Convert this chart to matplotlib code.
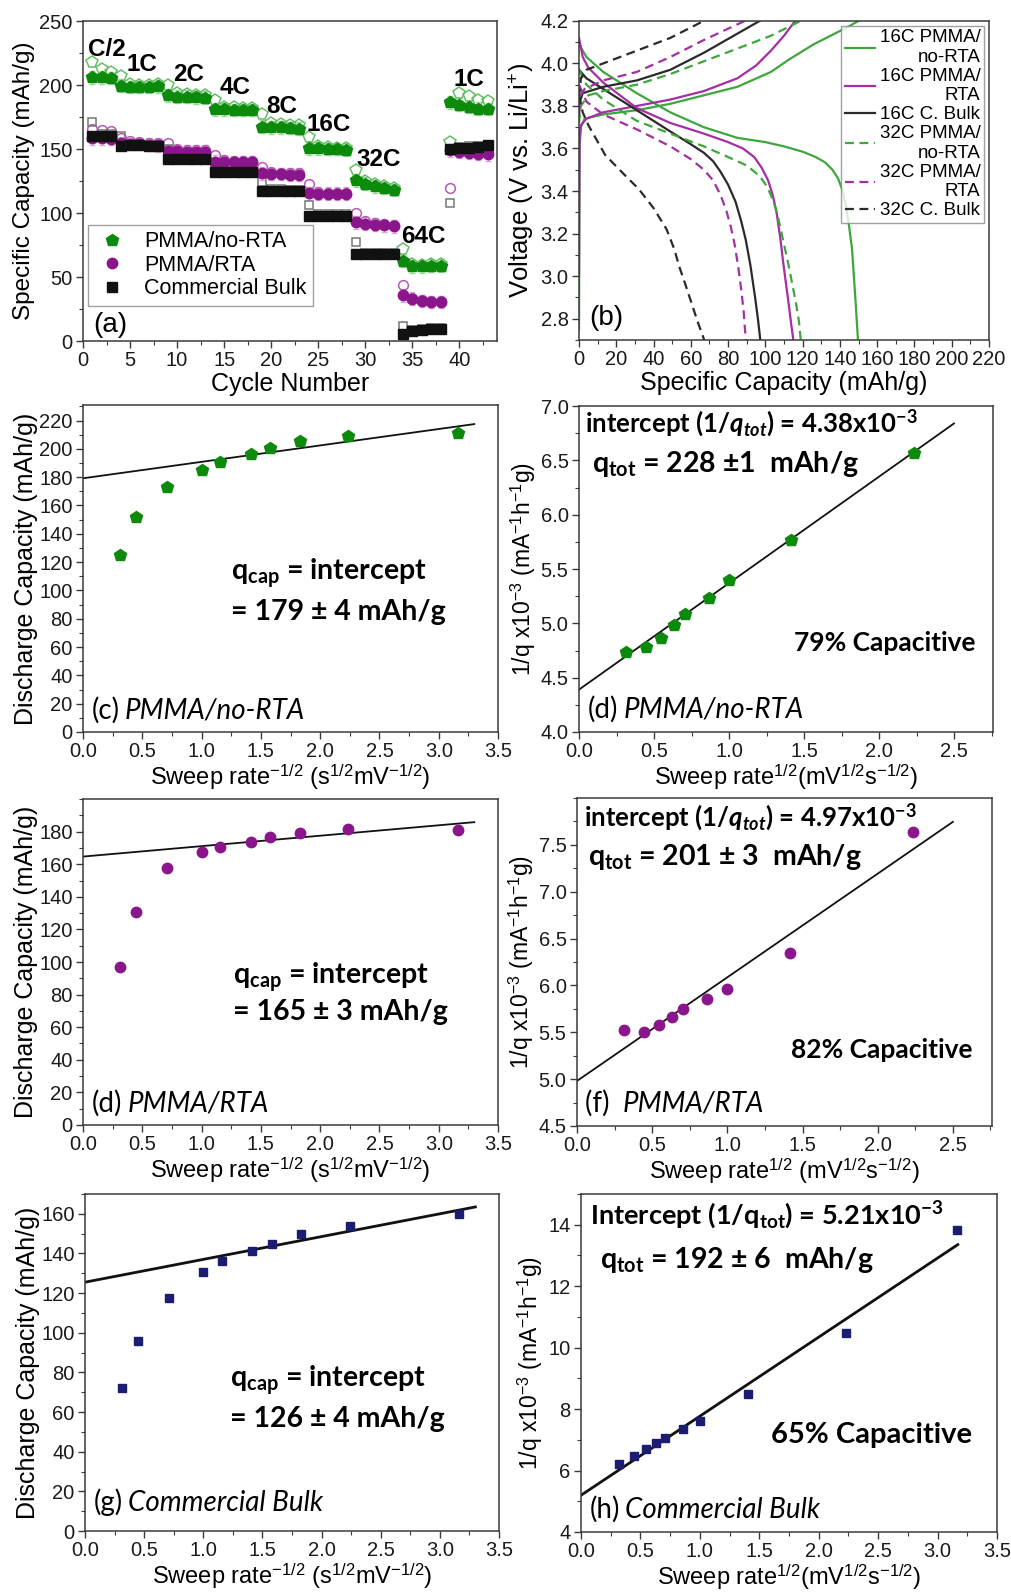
import matplotlib
matplotlib.use("Agg")
import matplotlib.pyplot as plt
from matplotlib.lines import Line2D
from matplotlib.ticker import AutoMinorLocator, MultipleLocator

plt.rcParams['font.family'] = ['Liberation Sans', 'DejaVu Sans']
plt.rcParams['mathtext.fontset'] = 'custom'
plt.rcParams['mathtext.rm'] = 'Liberation Sans'
plt.rcParams['mathtext.sf'] = 'Liberation Sans'
plt.rcParams['mathtext.it'] = 'Lato:italic'
plt.rcParams['mathtext.bf'] = 'Lato:bold'
plt.rcParams['mathtext.bfit'] = 'Lato:italic:bold'

# ---------------- (a) rate capability ----------------
cycles = list(range(1, 44))
rate_labels = ["C/2", "1C", "2C", "4C", "8C", "16C", "32C", "64C", "1C"]
rate_label_x = [2.5, 6.3, 11.2, 16.2, 21.1, 26.1, 31.4, 36.2, 41.0]
rate_label_y = [228, 216, 208, 198, 183, 169, 142, 82, 204]

norta_fill = [206, 206, 205.5,
              199.5, 198.5, 198.5, 198.5, 199,
              192, 191, 191, 190.5, 190,
              181, 181, 180.5, 180.5, 180.5,
              167.5, 167, 167, 166.5, 166,
              150.5, 150.5, 150, 150, 149.5,
              125.5, 123, 121, 119.5, 118,
              62.5, 58.5, 58.5, 59, 59,
              186.5, 184.7, 182.8, 181.5, 181.3]
norta_open = [218, 212.5, 210,
              207, 201, 200, 200, 200.5,
              200, 193.5, 193, 192.5, 192,
              188, 183, 182.5, 182, 182,
              177, 170, 169.5, 169, 168.5,
              159.5, 152, 151.5, 151, 151,
              134, 125, 122.5, 121, 119.5,
              72, 60, 59.5, 60, 60,
              155.5, 193.8, 191.2, 188.6, 187.5]
rta_fill = [158.5, 158.5, 158,
            154.5, 154, 154, 153.5, 153,
            148.5, 148.5, 148, 148, 148,
            140, 140, 139.5, 139.5, 139.5,
            131, 130.5, 130.5, 130, 130,
            115.5, 115, 115, 115, 115,
            92.7, 91.7, 90.9, 90.4, 89.6,
            35.7, 33.1, 31.3, 30.5, 30.5,
            149, 147.7, 146.9, 146.4, 145.9]
rta_open = [166, 164.5, 164,
            159, 156, 155.5, 155, 155,
            154.5, 150, 149.5, 149.5, 149.5,
            145.5, 141.5, 141, 141, 141,
            136, 132, 131.5, 131.5, 131,
            122.5, 116.5, 116, 116, 116,
            100, 93.5, 92, 91.5, 91,
            43.5, 34, 32, 31, 31,
            119.5, 150, 149, 148.5, 148]
bulk_fill = [160.5, 160.5, 160,
             152.5, 153, 153, 152.5, 152.5,
             142.5, 142.5, 142.5, 142.5, 142.5,
             132, 132, 132, 132, 132,
             117.5, 117.5, 117.5, 117, 117,
             98, 98, 98, 98, 98,
             67.7, 67.7, 67.7, 68, 68,
             5.7, 7.6, 8.9, 9.4, 9.4,
             150.3, 150.8, 151.1, 151.6, 152.9]
bulk_open = [171, 162, 161.5,
             160, 154, 154, 153.5, 153.5,
             150, 143.5, 143.5, 143.5, 143.5,
             138.5, 133, 133, 133, 133,
             124.5, 118.5, 118.5, 118, 118,
             106.5, 99, 99, 99, 99,
             77.5, 68.5, 68.5, 68.5, 68.5,
             11.5, 8.5, 9.5, 10, 10,
             108, 151.5, 152, 152.5, 153.5]
err_norta = 5
err_rta = 5

# ---------------- (b) voltage profiles (capacity, voltage) ----------------
g16_dis_q = [0, 4, 13, 31, 49, 67, 85, 100, 110, 120, 127, 132, 136, 139, 141.5,
             143.5, 145, 146.5, 147.5, 148.5, 149.7]
g16_dis_v = [4.09, 4.03, 3.96, 3.86, 3.77, 3.70, 3.65, 3.63, 3.61, 3.585, 3.56, 3.535,
             3.50, 3.46, 3.40, 3.32, 3.23, 3.13, 3.00, 2.87, 2.70]
g16_chg_q = [0, 0.3, 1, 3, 13, 31, 49, 67, 85, 103, 113, 126, 144, 150]
g16_chg_v = [2.75, 3.60, 3.70, 3.74, 3.76, 3.78, 3.81, 3.85, 3.89, 3.96, 4.02, 4.09, 4.17, 4.20]

p16_dis_q = [0, 2, 5, 13, 31, 49, 67, 80, 88, 94, 98, 101.5, 104, 106, 108, 109.5,
             111, 112.5, 113.8, 115]
p16_dis_v = [4.12, 4.03, 3.98, 3.91, 3.79, 3.72, 3.67, 3.63, 3.60, 3.56, 3.51, 3.45,
             3.38, 3.30, 3.18, 3.07, 2.97, 2.87, 2.78, 2.70]
p16_chg_q = [0, 0.3, 1, 4, 13, 31, 49, 67, 85, 95, 103, 110, 116]
p16_chg_v = [3.0, 3.65, 3.71, 3.74, 3.77, 3.80, 3.83, 3.87, 3.93, 3.99, 4.06, 4.13, 4.20]

b16_dis_q = [0, 4, 13, 31, 49, 60, 67, 72, 76, 80, 84, 87, 89.5, 92, 94.5, 96, 97.3]
b16_dis_v = [3.97, 3.93, 3.88, 3.78, 3.68, 3.62, 3.58, 3.54, 3.49, 3.43, 3.35, 3.26,
             3.17, 3.05, 2.90, 2.80, 2.70]
b16_chg_q = [0, 0.5, 2, 13, 31, 49, 67, 83, 97]
b16_chg_v = [3.75, 3.82, 3.86, 3.89, 3.92, 3.97, 4.05, 4.13, 4.20]

g32_dis_q = [0, 4, 13, 31, 49, 67, 80, 90, 97, 101, 104, 106.5, 108.5, 110.5, 112.5,
             114.5, 116.5, 118, 119]
g32_dis_v = [3.97, 3.90, 3.83, 3.73, 3.67, 3.61, 3.56, 3.52, 3.47, 3.42, 3.36, 3.29,
             3.21, 3.13, 3.05, 2.96, 2.87, 2.79, 2.70]
g32_chg_q = [0, 1, 5, 13, 31, 49, 67, 85, 103, 119]
g32_chg_v = [3.72, 3.80, 3.85, 3.87, 3.90, 3.95, 4.01, 4.07, 4.13, 4.20]

p32_dis_q = [0, 4, 13, 31, 49, 60, 67, 72, 76, 79, 81.5, 83.5, 85.5, 87, 88.3, 89.5]
p32_dis_v = [3.90, 3.82, 3.76, 3.69, 3.61, 3.55, 3.50, 3.45, 3.38, 3.31, 3.23, 3.15,
             3.04, 2.94, 2.84, 2.70]
p32_chg_q = [0, 1, 3, 13, 31, 49, 67, 89]
p32_chg_v = [3.78, 3.85, 3.88, 3.92, 3.96, 4.03, 4.11, 4.20]

b32_dis_q = [0, 2, 5, 14, 24, 32, 40, 47, 51, 54, 57.5, 60.5, 63.5, 67.2]
b32_dis_v = [3.85, 3.77, 3.71, 3.57, 3.48, 3.41, 3.32, 3.22, 3.13, 3.04, 2.95, 2.87,
             2.79, 2.70]
b32_chg_q = [0, 1, 4, 13, 31, 49, 67]
b32_chg_v = [3.84, 3.93, 3.97, 4.00, 4.06, 4.12, 4.20]

# ---------------- (c)-(h) Trasatti analysis ----------------
inv_sqrt_rate = [0.316, 0.447, 0.707, 1.0, 1.155, 1.414, 1.581, 1.826, 2.236, 3.162]
sqrt_rate = [0.316, 0.447, 0.548, 0.632, 0.707, 0.866, 1.0, 1.414, 2.236]

cap_norta = [124.7, 152, 172.9, 185, 190.8, 196.5, 200.7, 205.4, 209, 211]
cap_rta = [97.2, 130.9, 157.5, 167.5, 170.6, 173.9, 176.7, 179, 181.8, 181.2]
cap_bulk = [72.3, 95.6, 117.6, 130.4, 136, 141, 144.7, 149.9, 153.8, 159.7]
fit_cap_norta = (179.2, 11.6)   # intercept, slope
fit_cap_rta = (164.7, 6.4)
fit_cap_bulk = (125.5, 11.5)

invq_norta = [4.736, 4.785, 4.864, 4.987, 5.088, 5.235, 5.40, 5.768, 6.571]
invq_rta = [5.52, 5.502, 5.581, 5.66, 5.749, 5.859, 5.966, 6.341, 7.632]
invq_bulk = [6.228, 6.489, 6.685, 6.88, 7.065, 7.359, 7.62, 8.5, 10.47, 13.84]
sqrt_rate_bulk = [0.317, 0.443, 0.547, 0.628, 0.704, 0.858, 0.998, 1.402, 2.232, 3.16]
fit_invq_norta = (4.39, 0.98)
fit_invq_rta = (4.98, 1.106)
fit_invq_bulk = (5.196, 2.573)

GREEN = "#0c8a0c"
GREEN_OPEN = "#63bf63"
GREEN_ERR = "#9ad69a"
PURPLE = "#8b168b"
PURPLE_OPEN = "#b45ab4"
PURPLE_ERR = "#d9a6d9"
BLACK = "#111111"
NAVY = "#1c1c70"
LG = "#3da63d"
LP = "#a52ea5"
LK = "#2a2a2a"
SPINE = "#3a3a3a"

TICK_FS = 14.5
ANNOT = dict(family="Lato", fontweight="bold")

fig = plt.figure(figsize=(10.11, 15.93), dpi=100)


def style_axes(ax):
    for s in ax.spines.values():
        s.set_color(SPINE)
        s.set_linewidth(1.1)
    ax.tick_params(which="both", direction="out", top=False, right=False,
                   colors=SPINE, labelcolor="#1a1a1a", labelsize=TICK_FS)
    ax.tick_params(which="major", length=5, width=1, pad=2.5)
    ax.tick_params(which="minor", length=3, width=0.8)
    ax.xaxis.set_minor_locator(AutoMinorLocator(2))
    ax.yaxis.set_minor_locator(AutoMinorLocator(2))


def panel_tag(ax, x, y, tag, name):
    t = ax.text(x, y, tag, transform=ax.transAxes, family="Lato",
                fontsize=20, va="baseline", ha="left")
    ax.annotate(name, xy=(1, 0), xycoords=t, xytext=(4, 0),
                textcoords="offset points", family="Lato", style="italic",
                fontsize=20, va="bottom", ha="left")


# ---------------- panel (a) ----------------
ax = fig.add_axes([0.0821, 0.7859, 0.4095, 0.2009])
ax.errorbar(cycles, norta_fill, yerr=err_norta, fmt="none", ecolor=GREEN_ERR,
            elinewidth=0.8, capsize=2, zorder=1)
ax.errorbar(cycles, rta_fill, yerr=err_rta, fmt="none", ecolor=PURPLE_ERR,
            elinewidth=0.8, capsize=2, zorder=1)
ax.plot(cycles, norta_open, "p", ms=8.5, mfc="none", mec=GREEN_OPEN, mew=1.1, zorder=2)
ax.plot(cycles, rta_open, "o", ms=7, mfc="none", mec=PURPLE_OPEN, mew=1.1, zorder=2)
ax.plot(cycles, bulk_open, "s", ms=6, mfc="none", mec="#777777", mew=1.1, zorder=2)
ax.plot(cycles, norta_fill, "p", ms=9, color=GREEN, mec=GREEN, ls="none",
        zorder=3, label="PMMA/no-RTA")
ax.plot(cycles, rta_fill, "o", ms=7.5, color=PURPLE, mec=PURPLE, ls="none",
        zorder=3, label="PMMA/RTA")
ax.plot(cycles, bulk_fill, "s", ms=6.5, color=BLACK, mec=BLACK, ls="none",
        zorder=3, label="Commercial Bulk")
for lab, lx, ly in zip(rate_labels, rate_label_x, rate_label_y):
    ax.text(lx, ly, lab, ha="center", va="center", fontsize=17.5, fontweight="bold")
ax.set_xlim(0, 44)
ax.set_ylim(0, 250)
ax.xaxis.set_major_locator(MultipleLocator(5))
ax.yaxis.set_major_locator(MultipleLocator(50))
style_axes(ax)
ax.set_xlabel("Cycle Number", fontsize=18, labelpad=1)
ax.set_ylabel("Specific Capacity (mAh/g)", fontsize=17.5, labelpad=3)
leg = ax.legend(loc="lower left", bbox_to_anchor=(0.012, 0.11), fontsize=15.5,
                frameon=True, fancybox=False, edgecolor="#888888",
                handletextpad=0.7, borderpad=0.3, labelspacing=0.12,
                handlelength=1.6, borderaxespad=0)
leg.get_frame().set_linewidth(1.0)
ax.text(0.024, 0.05, "(a)", transform=ax.transAxes, fontsize=20, va="center")

# ---------------- panel (b) ----------------
ax = fig.add_axes([0.5727, 0.7866, 0.4055, 0.2003])
dash = (0, (4, 2.5))
curves = [
    (g16_chg_q, g16_chg_v, LG, "-"), (g16_dis_q, g16_dis_v, LG, "-"),
    (p16_chg_q, p16_chg_v, LP, "-"), (p16_dis_q, p16_dis_v, LP, "-"),
    (b16_chg_q, b16_chg_v, LK, "-"), (b16_dis_q, b16_dis_v, LK, "-"),
    (g32_chg_q, g32_chg_v, LG, dash), (g32_dis_q, g32_dis_v, LG, dash),
    (p32_chg_q, p32_chg_v, LP, dash), (p32_dis_q, p32_dis_v, LP, dash),
    (b32_chg_q, b32_chg_v, LK, dash), (b32_dis_q, b32_dis_v, LK, dash),
]
for q, v, c, ls in curves:
    ax.plot(q, v, color=c, ls=ls, lw=1.6)
ax.set_xlim(0, 220)
ax.set_ylim(2.7, 4.2)
ax.xaxis.set_major_locator(MultipleLocator(20))
ax.set_yticks([2.8, 3.0, 3.2, 3.4, 3.6, 3.8, 4.0, 4.2])
ax.set_yticklabels(["2.8", "3.0", "3.2", "3.4", "3.6", "3.8", "4.0", "4.2"])
style_axes(ax)
ax.set_xlabel("Specific Capacity (mAh/g)", fontsize=18, labelpad=1)
ax.set_ylabel(r"Voltage (V vs. Li/Li$^{\mathrm{+}}$)", fontsize=18.5, labelpad=3)
handles = [Line2D([], [], color=LG, lw=1.6), Line2D([], [], color=LP, lw=1.6),
           Line2D([], [], color=LK, lw=1.6), Line2D([], [], color=LG, lw=1.6, ls=dash),
           Line2D([], [], color=LP, lw=1.6, ls=dash), Line2D([], [], color=LK, lw=1.6, ls=dash)]
labels = ["16C PMMA/\nno-RTA", "16C PMMA/\nRTA", "16C C. Bulk",
          "32C PMMA/\nno-RTA", "32C PMMA/\nRTA", "32C C. Bulk"]
leg = ax.legend(handles, labels, loc="upper right", fontsize=13.5, frameon=True,
                fancybox=False, edgecolor="#888888", handlelength=1.6,
                handletextpad=0.25, labelspacing=0.1, borderpad=0.2,
                borderaxespad=0.25)
for t in leg.get_texts():
    t.set_multialignment("right")
ax.text(0.024, 0.07, "(b)", transform=ax.transAxes, fontsize=20, va="center")

# ---------------- capacity vs sweep rate^-1/2 panels ----------------
xlab_inv = r"Sweep rate$^{\mathrm{-1/2}}$ (s$^{\mathrm{1/2}}$mV$^{\mathrm{-1/2}}$)"
ylab_cap = "Discharge Capacity (mAh/g)"
ylab_inv = r"1/q x10$^{\mathrm{-3}}$ (mA$^{\mathrm{-1}}$h$^{\mathrm{-1}}$g)"


def cap_panel(rect, caps, fit, marker, color, ms, ymax, ytop, txt_xy, value_txt,
              tag, name, tag_y, fit_lw=1.3):
    ax = fig.add_axes(rect)
    xs = [0, 3.3]
    ax.plot(xs, [fit[0] + fit[1] * x for x in xs], color="#111111", lw=fit_lw, zorder=1)
    ax.plot(inv_sqrt_rate, caps, marker, color=color, mec=color, ms=ms, ls="none", zorder=2)
    ax.set_xlim(0, 3.5)
    ax.set_ylim(0, ytop)
    ax.set_yticks(list(range(0, ymax + 1, 20)))
    ax.xaxis.set_major_locator(MultipleLocator(0.5))
    ax.xaxis.set_major_formatter(plt.FormatStrFormatter("%.1f"))
    style_axes(ax)
    ax.set_xlabel(xlab_inv, fontsize=17, labelpad=1)
    ax.set_ylabel(ylab_cap, fontsize=18, labelpad=1)
    ax.text(txt_xy[0], txt_xy[1], r"q$_{\mathbf{cap}}$ = intercept", fontsize=20.5,
            va="center", **ANNOT)
    ax.text(txt_xy[0], txt_xy[2], value_txt, fontsize=20.5, va="center", **ANNOT)
    panel_tag(ax, 0.02, tag_y, tag, name)
    return ax


cap_panel([0.0821, 0.5405, 0.4105, 0.2053], cap_norta, fit_cap_norta, "p", GREEN, 9,
          220, 231, (1.25, 112, 85), "= 179 ± 4 mAh/g", "(c)", "PMMA/no-RTA", 0.04)
cap_panel([0.0821, 0.2938, 0.4105, 0.2046], cap_rta, fit_cap_rta, "o", PURPLE, 7.5,
          180, 200, (1.265, 91, 69.5), "= 165 ± 3 mAh/g", "(d)", "PMMA/RTA", 0.04)
cap_panel([0.0841, 0.0389, 0.4095, 0.2116], cap_bulk, fit_cap_bulk, "s", NAVY, 6,
          160, 170, (1.226, 76, 56.6), "= 126 ± 4 mAh/g", "(g)", "Commercial Bulk",
          0.06, fit_lw=2.0)


# ---------------- 1/q vs sweep rate^1/2 panels ----------------
def inv_panel(rect, xs_pts, vals, fit, marker, color, ms, ylim, yticks, xmax, xend,
              xlab, line1, line1_xy, line2, line2_xy, pct, pct_xy, tag, name, tag_y,
              fit_lw=1.3, line1_fs=18.5, pct_fs=19):
    ax = fig.add_axes(rect)
    xs = [0, xend]
    ax.plot(xs, [fit[0] + fit[1] * x for x in xs], color="#111111", lw=fit_lw, zorder=1)
    ax.plot(xs_pts, vals, marker, color=color, mec=color, ms=ms, ls="none", zorder=2)
    ax.set_xlim(0, xmax)
    ax.set_ylim(*ylim)
    ax.set_yticks(yticks)
    ax.xaxis.set_major_locator(MultipleLocator(0.5))
    ax.xaxis.set_major_formatter(plt.FormatStrFormatter("%.1f"))
    style_axes(ax)
    ax.set_xlabel(xlab, fontsize=17, labelpad=1)
    ax.set_ylabel(ylab_inv, fontsize=16.5, labelpad=2)
    ax.text(line1_xy[0], line1_xy[1], line1, fontsize=line1_fs, va="center", **ANNOT)
    ax.text(line2_xy[0], line2_xy[1], line2, fontsize=20.5, va="center", **ANNOT)
    ax.text(pct_xy[0], pct_xy[1], pct, fontsize=pct_fs, va="center", **ANNOT)
    panel_tag(ax, 0.02, tag_y, tag, name)
    return ax


xlab_sq = r"Sweep rate$^{\mathrm{1/2}}$(mV$^{\mathrm{1/2}}$s$^{\mathrm{-1/2}}$)"
xlab_sq2 = r"Sweep rate$^{\mathrm{1/2}}$ (mV$^{\mathrm{1/2}}$s$^{\mathrm{-1/2}}$)"

ax = inv_panel([0.5727, 0.5405, 0.4095, 0.2046], sqrt_rate, invq_norta, fit_invq_norta,
               "p", GREEN, 9, (4.0, 7.0), [4.0, 4.5, 5.0, 5.5, 6.0, 6.5, 7.0], 2.76, 2.5,
               xlab_sq, r"intercept (1/$\mathbfit{q_{tot}}$) = 4.38x10$^{\mathbf{-3}}$",
               (0.04, 6.84), r"q$_{\mathbf{tot}}$ = 228 ±1  mAh/g", (0.087, 6.47),
               "79% Capacitive", (1.43, 4.82), "(d)", "PMMA/no-RTA", 0.043)
ax.yaxis.set_major_formatter(plt.FormatStrFormatter("%.1f"))

ax = inv_panel([0.5707, 0.2932, 0.4105, 0.2059], sqrt_rate, invq_rta, fit_invq_rta,
               "o", PURPLE, 7.5, (4.5, 8.0), [4.5, 5.0, 5.5, 6.0, 6.5, 7.0, 7.5], 2.76, 2.5,
               xlab_sq2, r"intercept (1/$\mathbfit{q_{tot}}$) = 4.97x10$^{\mathbf{-3}}$",
               (0.05, 7.79), r"q$_{\mathbf{tot}}$ = 201 ± 3  mAh/g", (0.073, 7.365),
               "82% Capacitive", (1.425, 5.31), "(f) ", "PMMA/RTA", 0.043)
ax.yaxis.set_major_formatter(plt.FormatStrFormatter("%.1f"))

inv_panel([0.5747, 0.0383, 0.4115, 0.2122], sqrt_rate_bulk, invq_bulk, fit_invq_bulk,
          "s", NAVY, 6, (4, 15), [4, 6, 8, 10, 12, 14], 3.5, 3.17,
          xlab_sq, r"Intercept (1/q$_{\mathbf{tot}}$) = 5.21x10$^{\mathbf{-3}}$",
          (0.079, 14.33), r"q$_{\mathbf{tot}}$ = 192 ± 6  mAh/g", (0.163, 12.86),
          "65% Capacitive", (1.6, 7.15), "(h)", "Commercial Bulk", 0.041, fit_lw=2.0,
          line1_fs=19.5, pct_fs=21)

fig.savefig("out.png", dpi=100)
